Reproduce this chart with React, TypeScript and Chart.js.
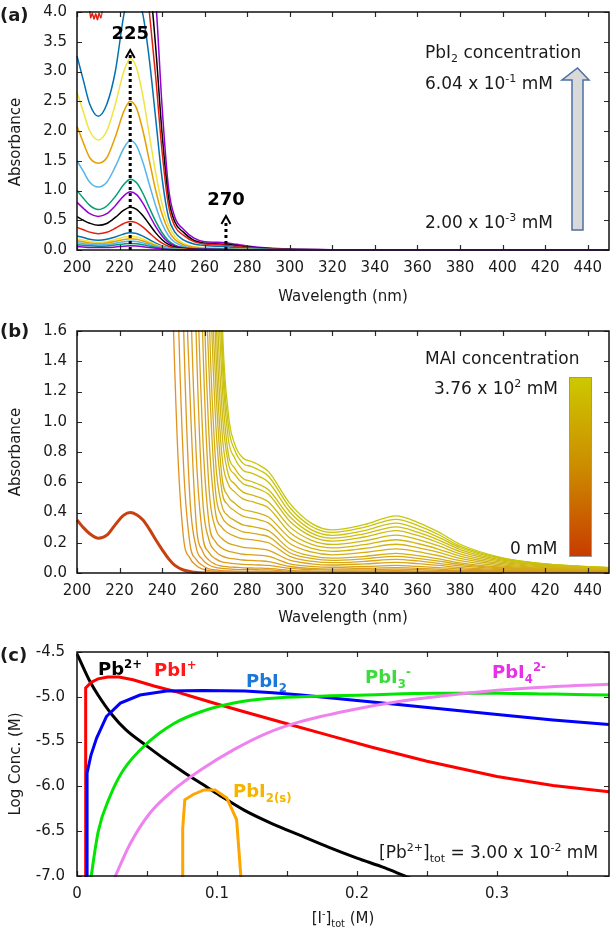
import React, { useEffect, useRef } from 'react';
import { Chart, registerables } from 'chart.js';

Chart.register(...registerables);

const FONT = '"DejaVu Sans", "Liberation Sans", sans-serif';
Chart.defaults.font.family = FONT;
Chart.defaults.font.size = 15;
Chart.defaults.color = '#1a1a1a';

// ================= Panel (a): PbI2 titration spectra =================
const WL_A = [200, 203, 206, 210, 214, 218, 222, 225, 228, 231, 234, 237, 240, 243, 246, 250, 255, 260, 265, 270, 275, 280, 290, 300, 320, 350, 400, 450];
const A01 = [0.06, 0.05, 0.04, 0.04, 0.04, 0.05, 0.065, 0.07, 0.066, 0.056, 0.042, 0.028, 0.017, 0.009, 0.005, 0.002, 0.001, 0, 0, 0, 0, 0, 0, 0, 0, 0, 0, 0];
const A02 = [0.09, 0.08, 0.07, 0.063, 0.068, 0.084, 0.102, 0.11, 0.105, 0.088, 0.066, 0.044, 0.026, 0.014, 0.008, 0.004, 0.002, 0.001, 0.001, 0.001, 0, 0, 0, 0, 0, 0, 0, 0];
const A03 = [0.123, 0.108, 0.093, 0.086, 0.093, 0.114, 0.14, 0.15, 0.143, 0.12, 0.09, 0.06, 0.036, 0.02, 0.011, 0.005, 0.003, 0.002, 0.002, 0.001, 0.001, 0.001, 0, 0, 0, 0, 0, 0];
const A04 = [0.156, 0.137, 0.118, 0.109, 0.118, 0.144, 0.177, 0.19, 0.18, 0.152, 0.114, 0.076, 0.046, 0.025, 0.013, 0.007, 0.003, 0.002, 0.002, 0.002, 0.001, 0.001, 0, 0, 0, 0, 0, 0];
const A05 = [0.19, 0.166, 0.143, 0.132, 0.143, 0.175, 0.214, 0.23, 0.219, 0.184, 0.138, 0.092, 0.055, 0.03, 0.016, 0.008, 0.004, 0.003, 0.002, 0.002, 0.001, 0.001, 0, 0, 0, 0, 0, 0];
const A06 = [0.235, 0.21, 0.18, 0.165, 0.18, 0.22, 0.27, 0.29, 0.276, 0.232, 0.174, 0.116, 0.07, 0.038, 0.02, 0.01, 0.005, 0.003, 0.003, 0.002, 0.002, 0.001, 0.001, 0, 0, 0, 0, 0];
const A07 = [0.38, 0.34, 0.3, 0.275, 0.298, 0.365, 0.446, 0.48, 0.456, 0.384, 0.288, 0.192, 0.115, 0.062, 0.034, 0.017, 0.009, 0.006, 0.005, 0.004, 0.003, 0.002, 0.001, 0, 0, 0, 0, 0];
const A08 = [0.56, 0.5, 0.45, 0.415, 0.446, 0.547, 0.67, 0.72, 0.684, 0.576, 0.432, 0.288, 0.173, 0.094, 0.05, 0.025, 0.013, 0.009, 0.007, 0.006, 0.004, 0.003, 0.001, 0.001, 0, 0, 0, 0];
const A09 = [0.8, 0.7, 0.61, 0.565, 0.61, 0.745, 0.91, 0.98, 0.93, 0.784, 0.588, 0.392, 0.235, 0.127, 0.069, 0.034, 0.018, 0.012, 0.01, 0.008, 0.006, 0.004, 0.002, 0.001, 0, 0, 0, 0];
const A10 = [1.0, 0.87, 0.75, 0.68, 0.74, 0.9, 1.1, 1.19, 1.13, 0.95, 0.71, 0.48, 0.29, 0.155, 0.083, 0.042, 0.021, 0.014, 0.012, 0.01, 0.007, 0.005, 0.002, 0.001, 0, 0, 0, 0];
const A11 = [1.5, 1.32, 1.14, 1.06, 1.14, 1.4, 1.71, 1.84, 1.75, 1.47, 1.1, 0.74, 0.44, 0.24, 0.13, 0.064, 0.033, 0.022, 0.018, 0.015, 0.011, 0.007, 0.004, 0.002, 0, 0, 0, 0];
const A12 = [2.08, 1.8, 1.55, 1.46, 1.55, 1.9, 2.33, 2.5, 2.38, 2.0, 1.5, 1.0, 0.6, 0.33, 0.175, 0.088, 0.045, 0.03, 0.025, 0.02, 0.015, 0.01, 0.005, 0.003, 0.001, 0, 0, 0];
const A13 = [2.65, 2.32, 2.0, 1.85, 2.0, 2.45, 3.0, 3.22, 3.06, 2.58, 1.93, 1.29, 0.77, 0.42, 0.23, 0.11, 0.058, 0.04, 0.032, 0.026, 0.019, 0.013, 0.006, 0.003, 0.001, 0, 0, 0];
const A14 = [3.26, 2.85, 2.45, 2.25, 2.45, 3.0, 3.95, 4.4, 4.3, 3.95, 3.2, 2.2, 1.2, 0.55, 0.3, 0.17, 0.1, 0.075, 0.065, 0.055, 0.04, 0.03, 0.014, 0.007, 0.002, 0, 0, 0];
const WL_A15 = [200, 203, 205.6, 206.4, 207.2, 208, 208.8, 209.6, 210.4, 211.2, 212.4, 214, 218, 222, 225, 228, 231, 234, 237, 240, 243, 246, 250, 255, 260, 265, 270, 275, 280, 290, 300, 320, 350, 400, 450];
const A15 = [6, 5, 4.2, 3.9, 3.98, 3.88, 3.97, 3.87, 3.98, 3.9, 4.2, 5, 5.5, 6, 6, 6, 5.2, 4.0, 2.9, 1.65, 0.75, 0.4, 0.25, 0.14, 0.1, 0.09, 0.08, 0.06, 0.042, 0.02, 0.01, 0.003, 0.001, 0, 0];
const A16 = [6, 6, 6, 6, 6, 6, 6, 6, 6, 5.5, 4.6, 3.4, 1.95, 0.88, 0.47, 0.3, 0.16, 0.115, 0.105, 0.095, 0.075, 0.052, 0.025, 0.012, 0.004, 0.001, 0, 0];
const A17 = [6, 6, 6, 6, 6, 6, 6, 6, 6, 6, 5.2, 4.2, 2.4, 1.05, 0.55, 0.35, 0.2, 0.14, 0.13, 0.12, 0.095, 0.068, 0.032, 0.016, 0.005, 0.002, 0.001, 0];
const A_SERIES = [A01, A02, A03, A04, A05, A06, A07, A08, A09, A10, A11, A12, A13, A14, A15, A16, A17];
const A_COLORS = ['#9400d3', '#009e73', '#56b4e9', '#e69f00', '#f0e442', '#0072b2', '#e51e10', '#000000'];
// dotted arrows (wavelength, arrow tip absorbance, label, label absorbance)
const ARROW_X = [225, 270];
const ARROW_TIP = [3.36, 0.57];
const ARROW_LABEL = ['225', '270'];
const ARROW_LABEL_Y = [3.62, 0.84];

// ================= Panel (b): MAI titration spectra =================
const WL_B0 = [200, 203, 206, 210, 214, 218, 222, 225, 228, 231, 234, 237, 240, 243, 246, 250, 255, 260, 280, 300, 350, 400];
const B00 = [0.35, 0.3, 0.26, 0.23, 0.25, 0.32, 0.383, 0.4, 0.385, 0.35, 0.29, 0.22, 0.155, 0.095, 0.05, 0.02, 0.005, 0, 0, 0, 0, 0];
const WL_B = [240, 244, 247, 250, 253, 256, 259, 262, 265, 268, 271, 274, 278, 282, 286, 290, 300, 310, 320, 335, 350, 360, 370, 380, 400, 420, 450];
const B01 = [6, 2.4, 0.92, 0.24, 0.1, 0.05, 0.025, 0.016, 0.012, 0.008, 0.006, 0.006, 0.006, 0.005, 0.005, 0.005, 0.003, 0.002, 0.002, 0.002, 0.002, 0.002, 0.002, 0.002, 0.004, 0.006, 0.006];
const B02 = [6, 4.8, 2.1, 0.73, 0.2, 0.09, 0.05, 0.027, 0.021, 0.016, 0.014, 0.012, 0.011, 0.011, 0.011, 0.01, 0.006, 0.0045, 0.004, 0.0043, 0.005, 0.0045, 0.004, 0.004, 0.005, 0.007, 0.006];
const B03 = [6, 6, 3.9, 1.68, 0.51, 0.17, 0.089, 0.053, 0.037, 0.031, 0.027, 0.024, 0.022, 0.022, 0.021, 0.02, 0.012, 0.009, 0.0075, 0.0085, 0.01, 0.009, 0.007, 0.006, 0.006, 0.007, 0.007];
const B04 = [6, 6, 6, 2.6, 1.22, 0.33, 0.144, 0.085, 0.058, 0.046, 0.041, 0.038, 0.034, 0.033, 0.032, 0.03, 0.018, 0.013, 0.011, 0.013, 0.015, 0.013, 0.011, 0.0095, 0.008, 0.008, 0.007];
const B05 = [6, 6, 6, 5.0, 2.1, 0.79, 0.25, 0.136, 0.095, 0.073, 0.067, 0.062, 0.057, 0.055, 0.053, 0.05, 0.03, 0.022, 0.019, 0.021, 0.025, 0.022, 0.018, 0.014, 0.011, 0.01, 0.008];
const B06 = [6, 6, 6, 6, 3.4, 1.57, 0.5, 0.22, 0.145, 0.113, 0.099, 0.094, 0.086, 0.083, 0.08, 0.075, 0.043, 0.03, 0.026, 0.03, 0.035, 0.031, 0.025, 0.019, 0.013, 0.011, 0.009];
const B07 = [6, 6, 6, 6, 5.2, 2.3, 0.93, 0.333, 0.209, 0.165, 0.144, 0.135, 0.124, 0.121, 0.117, 0.11, 0.061, 0.044, 0.038, 0.043, 0.05, 0.044, 0.036, 0.027, 0.017, 0.013, 0.011];
const B08 = [6, 6, 6, 6, 6, 3.7, 1.6, 0.57, 0.3, 0.23, 0.198, 0.185, 0.17, 0.165, 0.159, 0.15, 0.085, 0.061, 0.053, 0.06, 0.07, 0.062, 0.05, 0.036, 0.022, 0.016, 0.012];
const B09 = [6, 6, 6, 6, 6, 5.0, 2.2, 0.915, 0.408, 0.303, 0.264, 0.244, 0.226, 0.22, 0.212, 0.2, 0.11, 0.078, 0.068, 0.077, 0.09, 0.08, 0.064, 0.047, 0.028, 0.02, 0.014];
const B10 = [6, 6, 6, 6, 6, 6, 2.8, 1.35, 0.554, 0.375, 0.321, 0.297, 0.272, 0.264, 0.254, 0.24, 0.134, 0.096, 0.083, 0.094, 0.11, 0.097, 0.079, 0.057, 0.033, 0.023, 0.016];
const B11 = [6, 6, 6, 6, 6, 6, 4.2, 1.78, 0.763, 0.45, 0.378, 0.348, 0.318, 0.308, 0.297, 0.28, 0.159, 0.113, 0.098, 0.11, 0.13, 0.115, 0.093, 0.067, 0.038, 0.027, 0.018];
const B12 = [6, 6, 6, 6, 6, 6, 5.2, 2.3, 1.045, 0.551, 0.448, 0.412, 0.376, 0.363, 0.35, 0.33, 0.195, 0.139, 0.12, 0.136, 0.16, 0.142, 0.114, 0.082, 0.046, 0.031, 0.021];
const B13 = [6, 6, 6, 6, 6, 6, 6, 2.6, 1.313, 0.649, 0.508, 0.463, 0.42, 0.407, 0.392, 0.37, 0.232, 0.165, 0.143, 0.162, 0.19, 0.168, 0.136, 0.097, 0.054, 0.036, 0.024];
const B14 = [6, 6, 6, 6, 6, 6, 6, 3.4, 1.58, 0.793, 0.59, 0.538, 0.49, 0.473, 0.456, 0.43, 0.268, 0.191, 0.166, 0.187, 0.22, 0.195, 0.157, 0.112, 0.062, 0.041, 0.026];
const B15 = [6, 6, 6, 6, 6, 6, 6, 4.6, 1.9, 0.959, 0.657, 0.59, 0.535, 0.517, 0.498, 0.47, 0.305, 0.218, 0.189, 0.213, 0.25, 0.222, 0.179, 0.127, 0.07, 0.046, 0.029];
const B16 = [6, 6, 6, 6, 6, 6, 6, 5.1, 2.2, 1.119, 0.733, 0.653, 0.59, 0.572, 0.551, 0.52, 0.342, 0.244, 0.211, 0.238, 0.28, 0.248, 0.2, 0.142, 0.078, 0.051, 0.031];
const B17 = [6, 6, 6, 6, 6, 6, 6, 6, 2.6, 1.31, 0.797, 0.695, 0.625, 0.605, 0.583, 0.55, 0.372, 0.265, 0.23, 0.259, 0.305, 0.27, 0.218, 0.155, 0.085, 0.055, 0.033];
const B18 = [6, 6, 6, 6, 6, 6, 6, 6, 3.0, 1.48, 0.899, 0.763, 0.68, 0.66, 0.636, 0.6, 0.403, 0.287, 0.249, 0.28, 0.33, 0.292, 0.236, 0.167, 0.091, 0.058, 0.034];
const B19 = [6, 6, 6, 6, 6, 6, 6, 6, 3.8, 1.64, 0.991, 0.816, 0.725, 0.704, 0.678, 0.64, 0.433, 0.309, 0.268, 0.302, 0.355, 0.315, 0.253, 0.178, 0.096, 0.06, 0.035];
const B20 = [6, 6, 6, 6, 6, 6, 6, 6, 4.4, 1.8, 1.069, 0.857, 0.76, 0.737, 0.71, 0.67, 0.46, 0.33, 0.285, 0.32, 0.378, 0.335, 0.27, 0.19, 0.1, 0.06, 0.035];
const B_SERIES = [B01, B02, B03, B04, B05, B06, B07, B08, B09, B10, B11, B12, B13, B14, B15, B16, B17, B18, B19, B20];

// ================= Panel (c): speciation =================
const C_PB_X = [0, 0.005, 0.0093, 0.015, 0.025, 0.035, 0.05, 0.063, 0.077, 0.09, 0.102, 0.12, 0.14, 0.16, 0.18, 0.2, 0.22, 0.234, 0.25];
const C_PB_Y = [-4.52, -4.69, -4.83, -4.98, -5.2, -5.37, -5.55, -5.7, -5.85, -5.98, -6.1, -6.27, -6.42, -6.55, -6.68, -6.8, -6.91, -7.0, -7.1];
const C_PBI_X = [0.0062, 0.0062, 0.01, 0.015, 0.022, 0.03, 0.04, 0.055, 0.07, 0.085, 0.1, 0.12, 0.15, 0.18, 0.21, 0.25, 0.3, 0.34, 0.38];
const C_PBI_Y = [-7.2, -4.9, -4.84, -4.8, -4.78, -4.78, -4.81, -4.88, -4.94, -5.01, -5.08, -5.17, -5.3, -5.43, -5.56, -5.72, -5.89, -5.99, -6.06];
const C_PBI2_X = [0.0072, 0.0072, 0.01, 0.014, 0.021, 0.031, 0.045, 0.064, 0.09, 0.12, 0.14, 0.16, 0.2, 0.231, 0.27, 0.302, 0.34, 0.38];
const C_PBI2_Y = [-7.2, -5.85, -5.65, -5.46, -5.22, -5.07, -4.98, -4.935, -4.93, -4.935, -4.955, -4.98, -5.04, -5.09, -5.15, -5.2, -5.26, -5.31];
const C_PBI3_X = [0.0092, 0.0152, 0.0236, 0.033, 0.05, 0.069, 0.088, 0.112, 0.136, 0.16, 0.207, 0.255, 0.302, 0.34, 0.38];
const C_PBI3_Y = [-7.1, -6.5, -6.11, -5.82, -5.52, -5.3, -5.17, -5.07, -5.02, -5.0, -4.98, -4.96, -4.96, -4.97, -4.98];
const C_PBI4_X = [0.026, 0.038, 0.052, 0.069, 0.088, 0.112, 0.135, 0.159, 0.195, 0.231, 0.278, 0.326, 0.38];
const C_PBI4_Y = [-7.05, -6.64, -6.3, -6.04, -5.82, -5.59, -5.41, -5.28, -5.15, -5.05, -4.96, -4.9, -4.86];
const C_SOLID_X = [0.0755, 0.0755, 0.077, 0.083, 0.0907, 0.0986, 0.107, 0.114, 0.118];
const C_SOLID_Y = [-7.2, -6.47, -6.15, -6.09, -6.04, -6.04, -6.13, -6.37, -7.2];

// ================= helpers =================
const zip = (xs: number[], ys: number[]) => xs.map((x, i) => ({ x, y: ys[i] }));

function framePlugin(extra?: (chart: any) => void) {
  return {
    id: 'frame',
    afterDatasetsDraw(chart: any) {
      const { ctx, chartArea: a, scales } = chart;
      const xs = scales.x;
      const ys = scales.y;
      ctx.save();
      ctx.strokeStyle = '#2a2a2a';
      ctx.lineWidth = 1.2;
      ctx.beginPath();
      for (const t of xs.ticks) {
        const p = Math.round(xs.getPixelForValue(t.value)) + 0.5;
        ctx.moveTo(p, a.bottom); ctx.lineTo(p, a.bottom - 5);
        ctx.moveTo(p, a.top); ctx.lineTo(p, a.top + 5);
      }
      for (const t of ys.ticks) {
        const p = Math.round(ys.getPixelForValue(t.value)) + 0.5;
        ctx.moveTo(a.left, p); ctx.lineTo(a.left + 5, p);
        ctx.moveTo(a.right, p); ctx.lineTo(a.right - 5, p);
      }
      ctx.stroke();
      ctx.strokeStyle = '#111';
      ctx.lineWidth = 1.5;
      ctx.strokeRect(a.left, a.top, a.right - a.left, a.bottom - a.top);
      ctx.restore();
      if (extra) { ctx.save(); extra(chart); ctx.restore(); }
    },
  };
}

function xAxis(min: number, max: number, step: number, height: number, title: any, cb?: (v: number) => string) {
  const ticks: any = { stepSize: step, includeBounds: false, autoSkip: false, maxRotation: 0, minRotation: 0, padding: 9, color: '#1a1a1a', font: { size: 15 } };
  if (cb) ticks.callback = cb;
  return {
    type: 'linear', min, max,
    grid: { display: false, drawTicks: false },
    border: { display: false },
    ticks,
    title,
    afterFit: (s: any) => { s.height = height; s.paddingLeft = 0; s.paddingRight = 0; },
  };
}

function yAxis(min: number, max: number, step: number, pad: number, title: any) {
  return {
    type: 'linear', min, max,
    grid: { display: false, drawTicks: false },
    border: { display: false },
    ticks: { stepSize: step, padding: pad, color: '#1a1a1a', font: { size: 15 }, callback: (v: any) => Number(v).toFixed(1) },
    title,
    afterFit: (s: any) => { s.width = 77; s.paddingTop = 0; s.paddingBottom = 0; },
  };
}

function baseOptions(top: number, scales: any) {
  return {
    responsive: false,
    animation: false,
    devicePixelRatio: 1,
    events: [],
    layout: { padding: { left: 0, right: 2, top, bottom: 0 } },
    plugins: { legend: { display: false }, tooltip: { enabled: false } },
    elements: { point: { radius: 0 } },
    scales,
  };
}

function useChart(ref: any, make: () => any) {
  useEffect(() => {
    const chart = new Chart(ref.current, make());
    return () => chart.destroy();
  }, []);
}

// ================= Panel A =================
function PanelA() {
  const ref = useRef<HTMLCanvasElement>(null);
  useChart(ref, () => {
    const datasets = A_SERIES.map((vals, i) => ({
      data: zip(i === 14 ? WL_A15 : WL_A, vals),
      borderColor: A_COLORS[i % 8],
      borderWidth: 1.5,
      pointRadius: 0,
      fill: false,
      cubicInterpolationMode: 'monotone',
      clip: 1,
    }));
    const extra = (chart: any) => {
      const { ctx, chartArea: a, scales } = chart;
      const xs = scales.x, ys = scales.y;
      ctx.strokeStyle = '#000';
      ctx.fillStyle = '#000';
      for (let i = 0; i < ARROW_X.length; i++) {
        const x = xs.getPixelForValue(ARROW_X[i]);
        const y0 = ys.getPixelForValue(0);
        const y1 = ys.getPixelForValue(ARROW_TIP[i]);
        ctx.setLineDash([3, 3]);
        ctx.lineWidth = 3;
        ctx.beginPath(); ctx.moveTo(x, y0); ctx.lineTo(x, y1 + 4); ctx.stroke();
        ctx.setLineDash([]);
        ctx.lineWidth = 2;
        ctx.beginPath(); ctx.moveTo(x - 4.5, y1 + 8); ctx.lineTo(x, y1); ctx.lineTo(x + 4.5, y1 + 8); ctx.stroke();
        ctx.font = 'bold 18px ' + FONT;
        ctx.textAlign = 'center';
        ctx.textBaseline = 'middle';
        ctx.fillText(ARROW_LABEL[i], x, ys.getPixelForValue(ARROW_LABEL_Y[i]));
      }
      // block arrow (concentration direction)
      const r = a.right;
      const t = a.top;
      ctx.beginPath();
      ctx.moveTo(r - 37, t + 218);
      ctx.lineTo(r - 37, t + 68);
      ctx.lineTo(r - 47, t + 68);
      ctx.lineTo(r - 31.5, t + 56);
      ctx.lineTo(r - 20, t + 68);
      ctx.lineTo(r - 26, t + 68);
      ctx.lineTo(r - 26, t + 218);
      ctx.closePath();
      ctx.fillStyle = '#d9d9d9';
      ctx.fill();
      ctx.strokeStyle = '#4d6fa3';
      ctx.lineWidth = 1.5;
      ctx.stroke();
    };
    return {
      type: 'line',
      data: { datasets },
      options: baseOptions(12, {
        x: xAxis(200, 450, 20, 60, { display: true, text: 'Wavelength (nm)', color: '#1a1a1a', font: { size: 15 }, padding: { top: 0, bottom: 4 } }),
        y: yAxis(0, 4, 0.5, 10, { display: false }),
      }),
      plugins: [framePlugin(extra)],
    };
  });
  return <canvas ref={ref} width={611} height={310} style={{ position: 'absolute', left: 0, top: 0, width: 611, height: 310 }} />;
}

// ================= Panel B =================
function bColor(k: number, n: number) {
  const t = k / (n - 1);
  const l = (a: number, b: number) => Math.round(a + (b - a) * t);
  return `rgb(${l(224, 200)},${l(146, 198)},${l(34, 12)})`;
}

function PanelB() {
  const ref = useRef<HTMLCanvasElement>(null);
  useChart(ref, () => {
    const datasets: any[] = B_SERIES.map((vals, i) => ({
      data: zip(WL_B, vals),
      borderColor: bColor(i, B_SERIES.length),
      borderWidth: 1.3,
      pointRadius: 0,
      fill: false,
      cubicInterpolationMode: 'monotone',
      clip: 1,
    }));
    datasets.push({
      data: zip(WL_B0, B00),
      borderColor: '#c8400f',
      borderWidth: 3,
      pointRadius: 0,
      fill: false,
      cubicInterpolationMode: 'monotone',
      clip: 1,
    });
    return {
      type: 'line',
      data: { datasets },
      options: baseOptions(26, {
        x: xAxis(200, 450, 20, 57, { display: true, text: 'Wavelength (nm)', color: '#1a1a1a', font: { size: 15 }, padding: { top: 0, bottom: 3 } }),
        y: yAxis(0, 1.6, 0.2, 10, { display: true, text: 'Absorbance', color: '#1a1a1a', font: { size: 15 }, padding: { top: 7, bottom: 0 } }),
      }),
      plugins: [framePlugin()],
    };
  });
  return <canvas ref={ref} width={611} height={325} style={{ position: 'absolute', left: 0, top: 305, width: 611, height: 325 }} />;
}

// ================= Panel C =================
function PanelC() {
  const ref = useRef<HTMLCanvasElement>(null);
  useChart(ref, () => {
    const mk = (xs: number[], ys: number[], color: string, smooth: boolean) => ({
      data: zip(xs, ys),
      borderColor: color,
      borderWidth: 3,
      pointRadius: 0,
      fill: false,
      tension: 0,
      cubicInterpolationMode: smooth ? 'monotone' : 'default',
      clip: 1,
    });
    const datasets = [
      mk(C_PBI4_X, C_PBI4_Y, '#ee82ee', true),
      mk(C_PBI3_X, C_PBI3_Y, '#00e600', true),
      mk(C_SOLID_X, C_SOLID_Y, '#ffa500', false),
      mk(C_PBI2_X, C_PBI2_Y, '#0000ff', false),
      mk(C_PBI_X, C_PBI_Y, '#ff0000', false),
      mk(C_PB_X, C_PB_Y, '#000000', true),
    ];
    const xcb = (v: number) => {
      const k = Math.round(v * 20);
      if (k % 2 !== 0) return '';
      return k === 0 ? '0' : (k / 20).toFixed(1);
    };
    return {
      type: 'line',
      data: { datasets },
      options: baseOptions(27, {
        x: xAxis(0, 0.38, 0.05, 57, { display: false }, xcb),
        y: yAxis(-7, -4.5, 0.5, 12, { display: true, text: 'Log Conc. (M)', color: '#1a1a1a', font: { size: 15 }, padding: { top: 7, bottom: 0 } }),
      }),
      plugins: [framePlugin()],
    };
  });
  return <canvas ref={ref} width={611} height={308} style={{ position: 'absolute', left: 0, top: 625, width: 611, height: 308 }} />;
}

// ================= Rich text overlays =================
type Seg = string | { sup: string } | { sub: string };
function Txt(props: { x: number; y: number; size?: number; bold?: boolean; color?: string; parts: Seg[]; rotate?: boolean; center?: boolean }) {
  const { x, y, size = 17, bold = false, color = '#1a1a1a', parts, rotate = false, center = false } = props;
  const transform = rotate ? 'translate(-50%,-50%) rotate(-90deg)' : center ? 'translate(-50%,-50%)' : 'translateY(-50%)';
  return (
    <div style={{ position: 'absolute', left: x, top: y, transform, fontFamily: FONT, fontSize: size, fontWeight: bold ? 700 : 400, color, whiteSpace: 'nowrap', lineHeight: 1 }}>
      {parts.map((p, i) =>
        typeof p === 'string' ? <span key={i}>{p}</span>
          : 'sup' in p ? <span key={i} style={{ fontSize: '0.65em', position: 'relative', top: '-0.6em' }}>{p.sup}</span>
            : <span key={i} style={{ fontSize: '0.65em', position: 'relative', top: '0.4em' }}>{p.sub}</span>
      )}
    </div>
  );
}

export default function App() {
  return (
    <div style={{ position: 'absolute', left: 0, top: 0, width: 611, height: 933, background: '#fff', overflow: 'hidden' }}>
      <PanelA />
      <PanelB />
      <PanelC />
      {/* Panel (a) */}
      <Txt x={0} y={15} size={18} bold parts={['(a)']} />
      <Txt x={15} y={142} size={15} rotate parts={['Absorbance']} />
      <Txt x={425} y={52} size={17} parts={['PbI', { sub: '2' }, ' concentration']} />
      <Txt x={425} y={83} size={17} parts={['6.04 x 10', { sup: '-1' }, ' mM']} />
      <Txt x={425} y={222} size={17} parts={['2.00 x 10', { sup: '-3' }, ' mM']} />
      {/* Panel (b) */}
      <Txt x={0} y={331} size={18} bold parts={['(b)']} />
      <Txt x={425} y={358} size={17} parts={['MAI concentration']} />
      <Txt x={434} y={388} size={17} parts={['3.76 x 10', { sup: '2' }, ' mM']} />
      <Txt x={510} y={548} size={17} parts={['0 mM']} />
      <div style={{ position: 'absolute', left: 569, top: 377, width: 21, height: 178, border: '1px solid #999', background: 'linear-gradient(to bottom, #cdc800 0%, #cc8c00 50%, #c83c00 100%)' }} />
      {/* Panel (c) */}
      <Txt x={0} y={655} size={18} bold parts={['(c)']} />
      <Txt x={98} y={669} size={18} bold color="#000" parts={['Pb', { sup: '2+' }]} />
      <Txt x={154} y={670} size={18} bold color="#ff1a1a" parts={['PbI', { sup: '+' }]} />
      <Txt x={246} y={681} size={18} bold color="#1a78d8" parts={['PbI', { sub: '2' }]} />
      <Txt x={365} y={677} size={18} bold color="#3ddc3d" parts={['PbI', { sub: '3' }, { sup: '-' }]} />
      <Txt x={492} y={672} size={18} bold color="#e830e8" parts={['PbI', { sub: '4' }, { sup: '2-' }]} />
      <Txt x={233} y={791} size={18} bold color="#f5b400" parts={['PbI', { sub: '2(s)' }]} />
      <Txt x={379} y={852} size={17} parts={['[Pb', { sup: '2+' }, ']', { sub: 'tot' }, ' = 3.00 x 10', { sup: '-2' }, ' mM']} />
      <Txt x={343} y={918} size={15} center parts={['[I', { sup: '-' }, ']', { sub: 'tot' }, ' (M)']} />
    </div>
  );
}
